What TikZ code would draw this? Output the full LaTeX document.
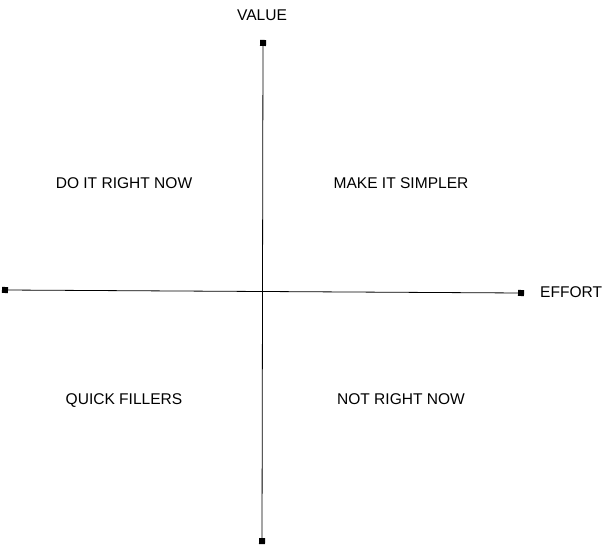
\documentclass[tikz,border=0pt]{standalone}
\usepackage{fontspec}
\setmainfont{Liberation Sans}
\usetikzlibrary{arrows.meta, positioning}

\begin{document}
\begin{tikzpicture}[x=1bp, y=-1bp,
    axis/.style={arrows={Square[length=6bp, width=6bp]-Square[length=6bp, width=6bp]}, shorten <=-3bp, shorten >=-3bp, line width=0.8bp, black},
    label/.style={font=\fontsize{15.6}{18}\selectfont, inner sep=0pt, text height=11bp, text depth=0pt},
    quadrant/.style={font=\fontsize{15.6}{18}\selectfont, inner sep=0pt, text height=11bp, text depth=0pt}
]
\useasboundingbox (0,0) rectangle (605,545);

% Axis ends
\coordinate (top) at (263,43);
\coordinate (bottom) at (262,541);
\coordinate (left) at (5,290);
\coordinate (right) at (521,293);

% Draw axes
\draw[axis] (bottom) -- (top);
\draw[axis] (left) -- (right);

% Axis labels
\node[label] (value) at (262,15) {VALUE};
\node[label, anchor=west] (effort) at (540,292) {EFFORT};

% Quadrants
\node[quadrant] (doit) at (124,183) {DO IT RIGHT NOW};
\node[quadrant] (simpler) at (401,183) {MAKE IT SIMPLER};
\node[quadrant] (fillers) at (124,399) {QUICK FILLERS};
\node[quadrant] (notnow) at (401,399) {NOT RIGHT NOW};

\end{tikzpicture}
\end{document}
